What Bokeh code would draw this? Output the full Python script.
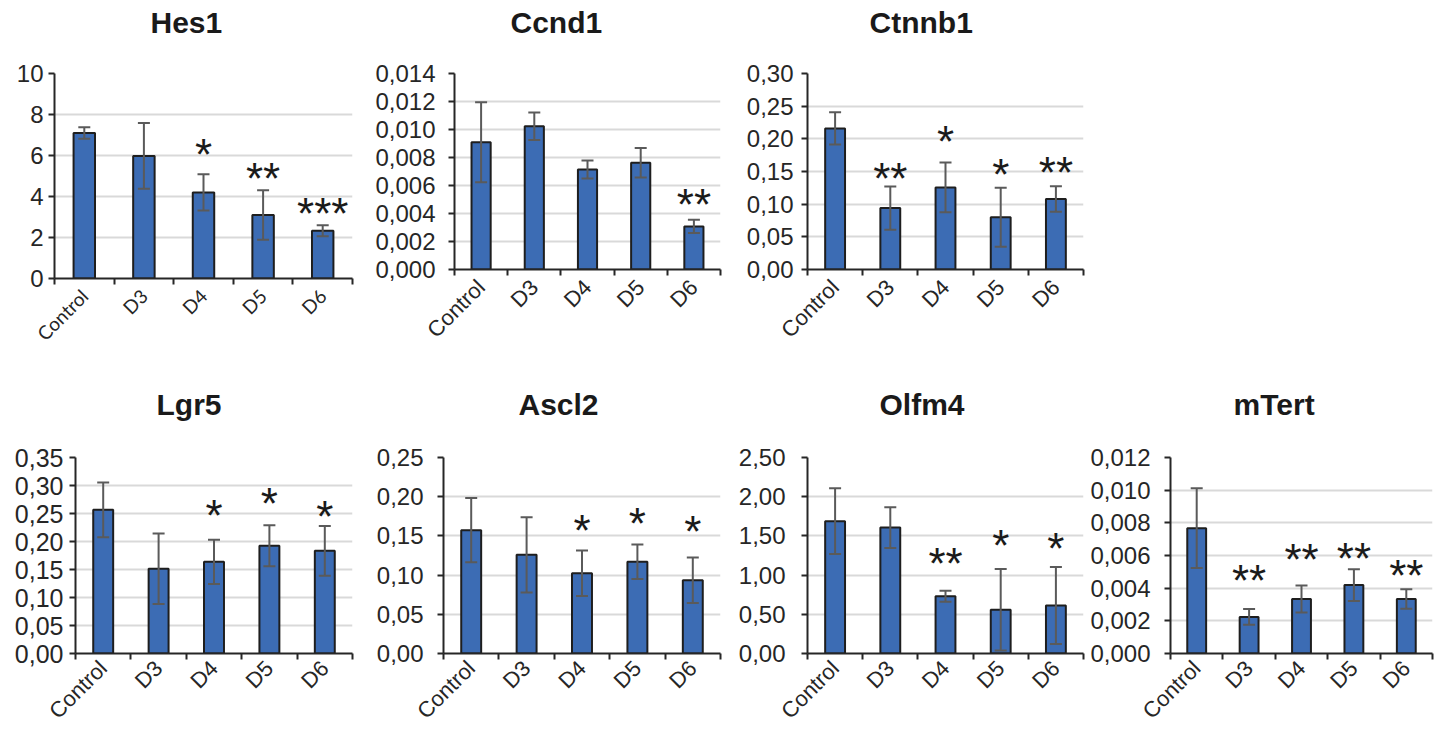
import math
from bokeh.plotting import figure
from bokeh.layouts import column, row
from bokeh.models import (Range1d, FixedTicker, Whisker, TeeHead, ColumnDataSource,
                          Title, LinearAxis)
from bokeh.core.properties import value
from bokeh.embed import file_html
from bokeh.resources import INLINE

categories = ["Control", "D3", "D4", "D5", "D6"]

hes1_mean = [7.10, 5.98, 4.20, 3.10, 2.33]
hes1_err = [0.28, 1.60, 0.88, 1.21, 0.27]
hes1_star_cat = ["D4", "D5", "D6"]
hes1_star_text = ["*", "**", "***"]
hes1_star_y = [6.32, 5.19, 3.48]
hes1_yticks = [0, 2, 4, 6, 8, 10]
hes1_ylabels = ["0", "2", "4", "6", "8", "10"]

ccnd1_mean = [0.00909, 0.01023, 0.00714, 0.00762, 0.00308]
ccnd1_err = [0.00285, 0.00098, 0.00064, 0.00105, 0.00048]
ccnd1_star_cat = ["D6"]
ccnd1_star_text = ["**"]
ccnd1_star_y = [0.00505]
ccnd1_yticks = [0, 0.002, 0.004, 0.006, 0.008, 0.010, 0.012, 0.014]
ccnd1_ylabels = ["0,000", "0,002", "0,004", "0,006", "0,008", "0,010", "0,012", "0,014"]

ctnnb1_mean = [0.216, 0.094, 0.1256, 0.080, 0.108]
ctnnb1_err = [0.0245, 0.033, 0.038, 0.045, 0.0195]
ctnnb1_star_cat = ["D3", "D4", "D5", "D6"]
ctnnb1_star_text = ["**", "*", "*", "**"]
ctnnb1_star_y = [0.149, 0.205, 0.154, 0.157]
ctnnb1_yticks = [0, 0.05, 0.10, 0.15, 0.20, 0.25, 0.30]
ctnnb1_ylabels = ["0,00", "0,05", "0,10", "0,15", "0,20", "0,25", "0,30"]

lgr5_mean = [0.2565, 0.1512, 0.1637, 0.1923, 0.1833]
lgr5_err = [0.049, 0.063, 0.0395, 0.0366, 0.0445]
lgr5_star_cat = ["D4", "D5", "D6"]
lgr5_star_text = ["*", "*", "*"]
lgr5_star_y = [0.258, 0.279, 0.255]
lgr5_yticks = [0, 0.05, 0.10, 0.15, 0.20, 0.25, 0.30, 0.35]
lgr5_ylabels = ["0,00", "0,05", "0,10", "0,15", "0,20", "0,25", "0,30", "0,35"]

ascl2_mean = [0.1573, 0.1259, 0.1025, 0.1169, 0.0935]
ascl2_err = [0.041, 0.048, 0.029, 0.022, 0.029]
ascl2_star_cat = ["D4", "D5", "D6"]
ascl2_star_text = ["*", "*", "*"]
ascl2_star_y = [0.165, 0.173, 0.163]
ascl2_yticks = [0, 0.05, 0.10, 0.15, 0.20, 0.25]
ascl2_ylabels = ["0,00", "0,05", "0,10", "0,15", "0,20", "0,25"]

olfm4_mean = [1.688, 1.607, 0.731, 0.557, 0.612]
olfm4_err = [0.42, 0.26, 0.07, 0.52, 0.49]
olfm4_star_cat = ["D4", "D5", "D6"]
olfm4_star_text = ["**", "*", "*"]
olfm4_star_y = [1.224, 1.458, 1.416]
olfm4_yticks = [0, 0.5, 1.0, 1.5, 2.0, 2.5]
olfm4_ylabels = ["0,00", "0,50", "1,00", "1,50", "2,00", "2,50"]

mtert_mean = [0.00767, 0.00224, 0.00334, 0.00419, 0.00334]
mtert_err = [0.00244, 0.00048, 0.00083, 0.00097, 0.00060]
mtert_star_cat = ["D3", "D4", "D5", "D6"]
mtert_star_text = ["**", "**", "**", "**"]
mtert_star_y = [0.00484, 0.0061, 0.00616, 0.00515]
mtert_yticks = [0, 0.002, 0.004, 0.006, 0.008, 0.010, 0.012]
mtert_ylabels = ["0,000", "0,002", "0,004", "0,006", "0,008", "0,010", "0,012"]

BAR = "#3C6CB4"
EDGE = "#1E1E1E"
ERR = "#5A5A5A"
AX = "#262626"
GRID = "#D9D9D9"
FONT = "Liberation Sans"


def panel(title, means, errs, star_cat, star_text, star_y, yticks, ylabels,
          w, h, bl, br, bt, bb, tx, spacer, ystand, xstand=8,
          yfont="24px", xfont=FONT, xsize="22px"):
    n = len(categories)
    xs = [i + 0.5 for i in range(n)]
    p = figure(width=w, height=h, x_range=Range1d(0, n),
               y_range=Range1d(yticks[0], yticks[-1]),
               output_backend="svg", toolbar_location=None,
               min_border_left=bl, min_border_right=br,
               min_border_top=bt, min_border_bottom=bb)
    p.outline_line_color = None
    p.background_fill_color = "white"
    p.border_fill_color = "white"

    ya = p.left[0]
    xa = p.below[0]

    # invisible spacer axis between frame and title (one hidden tick)
    sp = LinearAxis(ticker=FixedTicker(ticks=[0]), axis_line_color=None,
                    major_tick_line_color=None, minor_tick_line_color=None,
                    major_tick_out=spacer, major_tick_in=0,
                    minor_tick_out=0, minor_tick_in=0,
                    major_label_standoff=0,
                    major_label_overrides={0: ""})
    p.add_layout(sp, "above")

    p.title = Title(text=title, align="left", offset=tx, standoff=4,
                    vertical_align="bottom", text_font=FONT,
                    text_font_size="30px", text_font_style="bold",
                    text_color="#1A1A1A")

    p.xgrid.grid_line_color = None
    p.ygrid.ticker = FixedTicker(ticks=yticks)
    p.ygrid.grid_line_color = GRID
    p.ygrid.grid_line_width = 2

    ya.ticker = FixedTicker(ticks=yticks)
    ya.major_label_overrides = {t: l for t, l in zip(yticks, ylabels)}
    ya.axis_line_color = AX
    ya.axis_line_width = 2
    ya.major_tick_line_color = AX
    ya.major_tick_line_width = 2
    ya.major_tick_out = 6
    ya.major_tick_in = 0
    ya.minor_tick_line_color = None
    ya.major_label_standoff = ystand
    ya.major_label_text_font = FONT
    ya.major_label_text_font_size = yfont
    ya.major_label_text_color = AX

    xa.ticker = FixedTicker(ticks=xs, minor_ticks=list(range(n + 1)))
    xa.major_label_overrides = {x: c for x, c in zip(xs, categories)}
    xa.major_label_orientation = math.pi / 4
    xa.axis_line_color = AX
    xa.axis_line_width = 2
    xa.major_tick_line_color = None
    xa.major_tick_out = 0
    xa.major_tick_in = 0
    xa.minor_tick_line_color = AX
    xa.minor_tick_line_width = 2
    xa.minor_tick_out = 6
    xa.minor_tick_in = 0
    xa.major_label_standoff = xstand
    xa.major_label_text_font = xfont
    xa.major_label_text_font_size = xsize
    xa.major_label_text_color = AX

    p.vbar(x=xs, top=means, width=0.36, bottom=0, fill_color=BAR,
           line_color=EDGE, line_width=2)

    src = ColumnDataSource(dict(
        x=xs,
        upper=[m + e for m, e in zip(means, errs)],
        lower=[m - e for m, e in zip(means, errs)]))
    wk = Whisker(source=src, base="x", upper="upper", lower="lower",
                 line_color=ERR, line_width=2, level="annotation",
                 upper_head=TeeHead(size=12, line_color=ERR, line_width=2),
                 lower_head=TeeHead(size=12, line_color=ERR, line_width=2))
    p.add_layout(wk)

    sx = [xs[categories.index(c)] for c in star_cat]
    p.text(x=sx, y=star_y, text=star_text, text_align="center",
           text_baseline="alphabetic", y_offset=6,
           text_font=value(FONT), text_font_size="44px", text_color="#1A1A1A")
    return p


f1 = panel("Hes1", hes1_mean, hes1_err, hes1_star_cat, hes1_star_text, hes1_star_y,
           hes1_yticks, hes1_ylabels, 363, 368, 54, 11, 73, 90, 96, 33, 5,
           xfont="Lato", xsize="19px")
f2 = panel("Ccnd1", ccnd1_mean, ccnd1_err, ccnd1_star_cat, ccnd1_star_text, ccnd1_star_y,
           ccnd1_yticks, ccnd1_ylabels, 366, 359, 91, 9, 73, 90, 56, 33, 13)
f3 = panel("Ctnnb1", ctnnb1_mean, ctnnb1_err, ctnnb1_star_cat, ctnnb1_star_text, ctnnb1_star_y,
           ctnnb1_yticks, ctnnb1_ylabels, 371, 359, 78, 17, 73, 90, 62, 33, 8)
f4 = panel("Lgr5", lgr5_mean, lgr5_err, lgr5_star_cat, lgr5_star_text, lgr5_star_y,
           lgr5_yticks, lgr5_ylabels, 363, 367, 75, 11, 89, 82, 81, 35, 6,
           xstand=5, yfont="25px")
f5 = panel("Ascl2", ascl2_mean, ascl2_err, ascl2_star_cat, ascl2_star_text, ascl2_star_y,
           ascl2_yticks, ascl2_ylabels, 366, 367, 80, 9, 89, 82, 75, 35, 14, xstand=5)
f6 = panel("Olfm4", olfm4_mean, olfm4_err, olfm4_star_cat, olfm4_star_text, olfm4_star_y,
           olfm4_yticks, olfm4_ylabels, 356, 367, 78, 2, 89, 82, 72, 35, 16, xstand=5)
f7 = panel("mTert", mtert_mean, mtert_err, mtert_star_cat, mtert_star_text, mtert_star_y,
           mtert_yticks, mtert_ylabels, 357, 367, 85, 10, 89, 82, 63, 35, 14, xstand=5)

layout = column(row(f1, f2, f3), row(f4, f5, f6, f7))
open("out.html", "w").write(file_html(layout, INLINE))
